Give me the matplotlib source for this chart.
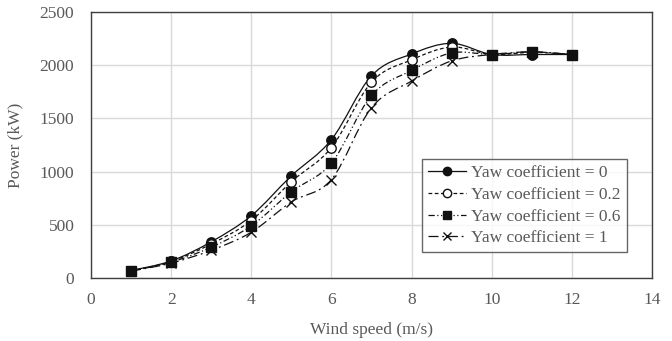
import numpy as np
import matplotlib.pyplot as plt
from matplotlib.path import Path
from matplotlib.patches import PathPatch
from matplotlib.lines import Line2D

wind = [1, 2, 3, 4, 5, 6, 7, 8, 9, 10, 11, 12]
p_0 = [70, 160, 340, 585, 960, 1300, 1900, 2105, 2205, 2100, 2100, 2100]
p_02 = [68, 155, 320, 540, 905, 1225, 1840, 2050, 2170, 2100, 2120, 2100]
p_06 = [66, 148, 290, 490, 810, 1080, 1715, 1950, 2115, 2100, 2125, 2100]
p_1 = [64, 140, 260, 430, 715, 925, 1600, 1850, 2040, 2100, 2125, 2100]
labels = ['Yaw coefficient = 0', 'Yaw coefficient = 0.2',
          'Yaw coefficient = 0.6', 'Yaw coefficient = 1']

plt.rcParams['font.family'] = ['Liberation Serif']
grey = '#595959'
fs = 12.5

fig = plt.figure(figsize=(6.72, 3.41), dpi=100)
ax = fig.add_axes([0.1354, 0.1848, 0.8348, 0.7802])


def smooth_path(x, y):
    # excel-like smoothed line: cubic bezier through every point
    x = np.asarray(x, float)
    y = np.asarray(y, float)
    verts = [(x[0], y[0])]
    codes = [Path.MOVETO]
    t = 1 / 6
    n = len(x)
    for i in range(n - 1):
        x0, y0 = (x[i - 1], y[i - 1]) if i > 0 else (x[i], y[i])
        x3, y3 = (x[i + 2], y[i + 2]) if i + 2 < n else (x[i + 1], y[i + 1])
        c1 = (x[i] + (x[i + 1] - x0) * t, y[i] + (y[i + 1] - y0) * t)
        c2 = (x[i + 1] - (x3 - x[i]) * t, y[i + 1] - (y3 - y[i]) * t)
        verts += [c1, c2, (x[i + 1], y[i + 1])]
        codes += [Path.CURVE4] * 3
    return Path(verts, codes)


styles = [
    dict(ls='-', marker='o', mfc='#111111'),
    dict(ls=(0, (3, 2)), marker='o', mfc='white'),
    dict(ls=(0, (5, 2, 1, 2, 1, 2)), marker='s', mfc='#111111'),
    dict(ls=(0, (8, 3, 1.5, 3)), marker='x', mfc='#111111'),
]
handles = []
for ys, st, lab in zip([p_0, p_02, p_06, p_1], styles, labels):
    patch = PathPatch(smooth_path(wind, ys), fill=False, edgecolor='#111111',
                      lw=0.9, linestyle=st['ls'], zorder=3)
    ax.add_patch(patch)
    ax.plot(wind, ys, ls='none', marker=st['marker'], ms=6.8,
            mfc=st['mfc'], mec='#111111', mew=1.0, zorder=4)
    handles.append(Line2D([], [], color='#111111', lw=0.9, linestyle=st['ls'],
                          marker=st['marker'], ms=6, mfc=st['mfc'],
                          mec='#111111', mew=1.0))

ax.set_xlim(0, 14)
ax.set_ylim(0, 2500)
ax.set_xticks(range(0, 15, 2))
ax.set_yticks(range(0, 2501, 500))
ax.grid(True, color='#d9d9d9', lw=1.0)
ax.set_axisbelow(True)
for s in ax.spines.values():
    s.set_color('#404040')
    s.set_linewidth(1.0)
ax.tick_params(length=0, labelsize=fs, labelcolor=grey)
ax.tick_params(axis='x', pad=10)
ax.tick_params(axis='y', pad=12)
ax.set_xlabel('Wind speed (m/s)', fontsize=fs, color=grey, labelpad=10)
ax.set_ylabel('Power (kW)', fontsize=fs, color=grey, labelpad=12)

leg = ax.legend(handles, labels, loc='upper left', bbox_to_anchor=(0.59, 0.447),
                fontsize=fs, frameon=True, fancybox=False, handlelength=2.2,
                handletextpad=0.3, borderpad=0.35, labelspacing=0.32,
                borderaxespad=0)
leg.get_frame().set_edgecolor('#404040')
leg.get_frame().set_linewidth(1.0)
for t in leg.get_texts():
    t.set_color(grey)

fig.savefig('out.png', dpi=100)
